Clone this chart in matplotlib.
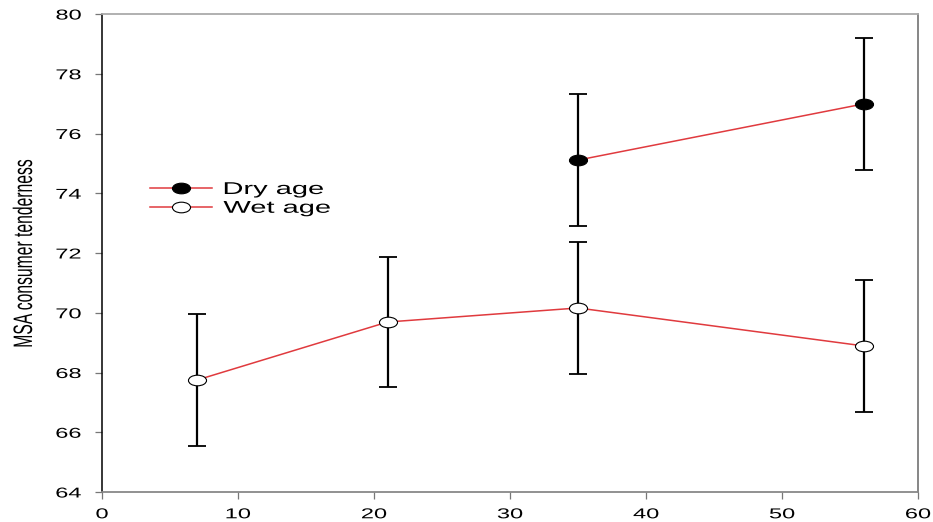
import matplotlib
matplotlib.use("Agg")
import matplotlib.pyplot as plt
from matplotlib.path import Path
from matplotlib.transforms import Affine2D
from matplotlib.patheffects import AbstractPathEffect

plt.rcParams['font.family'] = ['Liberation Sans', 'DejaVu Sans']

days_wet = [7, 21, 35, 56]
wet_mean = [67.75, 69.69, 70.16, 68.89]
wet_err = [2.2, 2.18, 2.2, 2.2]
days_dry = [35, 56]
dry_mean = [75.11, 76.99]
dry_err = [2.2, 2.2]
xticks = [0, 10, 20, 30, 40, 50, 60]
yticks = [64, 66, 68, 70, 72, 74, 76, 78, 80]


class Stretch(AbstractPathEffect):
    """Draw text glyphs stretched (the reference image is widened)."""
    def __init__(self, sx=1.0, sy=1.0, anchor='center'):
        super().__init__()
        self.sx, self.sy, self.anchor = sx, sy, anchor

    def draw_path(self, renderer, gc, tpath, affine, rgbFace=None):
        ext = tpath.get_extents()
        if self.anchor == 'right':
            a = ext.x1
        elif self.anchor == 'left':
            a = ext.x0
        else:
            a = 0.5 * (ext.x0 + ext.x1)
        t = Affine2D().translate(-a, 0).scale(self.sx, self.sy).translate(a, 0)
        renderer.draw_path(gc, tpath, t + affine, rgbFace)


SX = 1.7
ell = Path.unit_circle().transformed(Affine2D().scale(SX, 1.0))

fig = plt.figure(figsize=(9.33, 5.22), dpi=100)
ax = fig.add_axes([102/933, 1-492/522, (918-102)/933, (492-14)/522])

for x, m, e, fc, lab in [(days_dry, dry_mean, dry_err, 'black', 'Dry age'),
                         (days_wet, wet_mean, wet_err, 'white', 'Wet age')]:
    ax.errorbar(x, m, yerr=e, fmt='none', ecolor='black', elinewidth=1.6,
                capsize=6.5, capthick=1.3, zorder=2)
    ax.plot(x, m, color='#e03a3e', lw=1.1, marker=ell, markersize=13,
            markerfacecolor=fc, markeredgecolor='black', markeredgewidth=0.8,
            label=lab, zorder=3)

ax.set_xlim(0, 60)
ax.set_ylim(64, 80)
ax.set_xticks(xticks)
ax.set_yticks(yticks)
ax.tick_params(direction='out', length=5, width=0.9, color='#777777',
               labelsize=10.3)
ax.tick_params(axis='y', pad=10)
ax.tick_params(axis='x', pad=6)
for lab in ax.get_yticklabels():
    lab.set_path_effects([Stretch(sx=1.65, anchor='right')])
for lab in ax.get_xticklabels():
    lab.set_path_effects([Stretch(sx=1.65, anchor='center')])

ax.spines['top'].set_color('#aaaaaa')
ax.spines['top'].set_linewidth(1.3)
ax.spines['right'].set_color('#666666')
ax.spines['right'].set_linewidth(1.1)
ax.spines['left'].set_color('black')
ax.spines['left'].set_linewidth(1.1)
ax.spines['bottom'].set_color('#888888')
ax.spines['bottom'].set_linewidth(1.3)

yl = ax.set_ylabel('MSA consumer tenderness', fontsize=11.3)
ax.yaxis.set_label_coords((35 - 102) / 816, 0.5)
yl.set_path_effects([Stretch(sy=1.7, anchor='center')])

leg = ax.legend(loc='upper left', bbox_to_anchor=((150-102)/816, (492-182)/478),
                frameon=False, fontsize=12.3, handlelength=3.6, handletextpad=0.7,
                labelspacing=0.22, borderaxespad=0, borderpad=0)
for t in leg.get_texts():
    t.set_path_effects([Stretch(sx=1.7, anchor='left')])

fig.savefig('out.png', dpi=100)
